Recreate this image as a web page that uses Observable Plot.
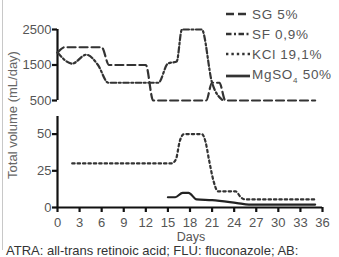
<!DOCTYPE html>
<html><head><meta charset="utf-8">
<script src="https://cdn.jsdelivr.net/npm/d3@7"></script>
<script src="https://cdn.jsdelivr.net/npm/@observablehq/plot@0.6"></script>
<style>
body{margin:0;background:#fff;}
#c{position:relative;width:339px;height:257px;overflow:hidden;font-family:"Liberation Sans",Arial,sans-serif;color:#444;}
#c .p{position:absolute;left:0;}
.lab{position:absolute;white-space:nowrap;}
</style></head><body>
<div id="c"></div>
<script>
// Data
const sgDays = [0, 1, 6, 7, 12, 13, 20.2, 21, 22, 22.8, 35];
const sgVol  = [1850, 2000, 2000, 1500, 1500, 500, 500, 1000, 1000, 500, 500];
const sfDays = [0, 2, 3.9, 5.5, 6.9, 13.7, 15, 16.2, 16.9, 19.6, 21, 22.5];
const sfVol  = [1850, 1540, 1790, 1500, 1000, 1000, 1540, 1600, 2500, 2500, 1000, 500];
const kclDays = [2, 15.5, 16.1, 16.6, 17.2, 19.6, 20.1, 20.6, 21.2, 21.8, 24.2, 24.9, 25.5, 35];
const kclVol  = [30, 30, 33, 45, 50, 50, 45, 32, 18, 11, 11, 7, 5.5, 5.5];
const mgDays = [15, 16, 17, 17.8, 18.9, 21, 24.4, 26, 35];
const mgVol  = [7, 7, 10, 10, 5.5, 5, 3, 2, 2];

const topTicks = [500, 1500, 2500];
const botTicks = [0, 25, 50];
const xTicks = d3.range(0, 37, 3);

const series = [
  {name: "SG 5%", dash: "8,4"},
  {name: "SF 0,9%", dash: "5.5,2.5,2,2.5"},
  {name: "KCl 19,1%", dash: "2.4,3"},
  {name: "MgSO<sub style='font-size:8px'>4</sub> 50%", dash: null}
];

const zip = (xs, ys) => xs.map((d, i) => ({d, v: ys[i]}));
const LW = 2.2, LC = "#333";
const tickFont = {fontFamily: "'Liberation Sans Narrow','Liberation Sans',Arial,sans-serif", fontSize: 13, fill: "#555"};

const c = document.getElementById("c");

// Top panel
const topPlot = Plot.plot({
  width: 339, height: 110,
  marginLeft: 57, marginRight: 17, marginTop: 29, marginBottom: 10,
  style: {background: "transparent", overflow: "visible"},
  x: {domain: [0, 36], axis: null},
  y: {domain: [500, 2500], axis: null},
  marks: [
    Plot.ruleX([0], {y1: 500, y2: 2500, stroke: "#111", strokeWidth: 2.2}),
    Plot.axisY({ticks: topTicks, tickFormat: d => String(d), tickSize: 5, tickPadding: 1, strokeWidth: 2.2, stroke: "#111", label: null, ...tickFont}),
    Plot.line(zip(sgDays, sgVol), {x: "d", y: "v", stroke: LC, strokeWidth: LW, strokeDasharray: series[0].dash, curve: "monotone-x"}),
    Plot.line(zip(sfDays, sfVol), {x: "d", y: "v", stroke: LC, strokeWidth: LW, strokeDasharray: series[1].dash, curve: "monotone-x"})
  ]
});
topPlot.classList.add("p"); topPlot.style.top = "0px";
c.appendChild(topPlot);

// Bottom panel
const botPlot = Plot.plot({
  width: 339, height: 136,
  marginLeft: 57, marginRight: 17, marginTop: 6, marginBottom: 39,
  style: {background: "transparent", overflow: "visible"},
  x: {domain: [0, 36], axis: null},
  y: {domain: [0, 62], axis: null},
  marks: [
    Plot.ruleX([0], {y1: 0, y2: 62, stroke: "#111", strokeWidth: 2.2}),
    Plot.ruleY([0], {x1: 0, x2: 36, stroke: "#111", strokeWidth: 2.2}),
    Plot.axisY({ticks: botTicks, tickFormat: d => String(d), tickSize: 5, tickPadding: 1, strokeWidth: 2.2, stroke: "#111", label: null, ...tickFont}),
    Plot.axisX({ticks: xTicks, tickFormat: d => String(d), tickSize: 5, tickPadding: 5, strokeWidth: 2.2, stroke: "#111", label: null, ...tickFont}),
    Plot.line(zip(kclDays, kclVol), {x: "d", y: "v", stroke: LC, strokeWidth: LW, strokeDasharray: series[2].dash, curve: "monotone-x"}),
    Plot.line(zip(mgDays, mgVol), {x: "d", y: "v", stroke: "#222", strokeWidth: LW, curve: "monotone-x"})
  ]
});
botPlot.classList.add("p"); botPlot.style.top = "110px";
c.appendChild(botPlot);

// Left border
const b = document.createElement("div");
b.style.cssText = "position:absolute;left:2px;top:0;width:1px;height:250px;background:#c8c8c8;";
c.appendChild(b);

// Legend
const rowsY = [14, 34.3, 54.3, 76];
series.forEach((s, i) => {
  const row = document.createElement("div");
  row.className = "lab";
  row.style.cssText = `left:225px;top:${rowsY[i] - 9}px;height:18px;display:flex;align-items:center;font-size:13.5px;letter-spacing:0.7px;color:#555;`;
  row.innerHTML = `<svg width="26" height="6" style="margin-right:1px"><line x1="1" x2="25" y1="3" y2="3" stroke="${LC}" stroke-width="${s.dash ? 2.3 : 2.7}" ${s.dash ? `stroke-dasharray="${s.dash}"` : ""}/></svg><span>${s.name}</span>`;
  c.appendChild(row);
});

// Axis titles and caption
const yl = document.createElement("div");
yl.className = "lab";
yl.textContent = "Total volume (mL/day)";
yl.style.cssText = "left:12px;top:115px;font-size:13px;color:#666;transform:translate(-50%,-50%) rotate(-90deg);";
c.appendChild(yl);

const xl = document.createElement("div");
xl.className = "lab";
xl.textContent = "Days";
xl.style.cssText = "left:191px;top:236.5px;font-size:12.5px;line-height:13px;color:#555;transform:translate(-50%,-50%);";
c.appendChild(xl);

const cap = document.createElement("div");
cap.className = "lab";
cap.textContent = "ATRA: all-trans retinoic acid; FLU: fluconazole; AB:";
cap.style.cssText = "left:6px;top:244px;font-size:13px;line-height:13px;color:#333;";
c.appendChild(cap);
</script>
</body></html>
